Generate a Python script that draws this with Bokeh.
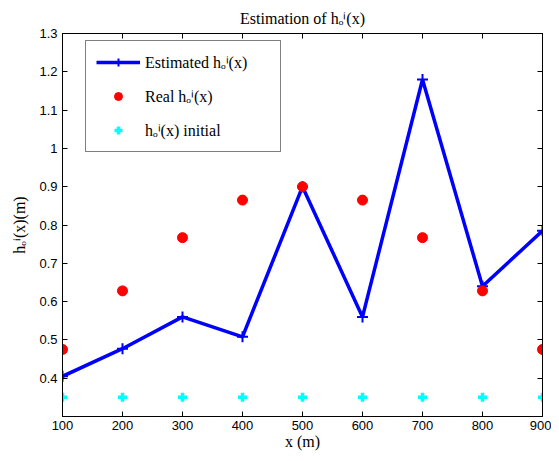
from bokeh.plotting import figure
from bokeh.models import (Range1d, FixedTicker, LinearAxis, Legend, LegendItem)
from bokeh.embed import file_html
from bokeh.resources import INLINE

# ---- data ----
x_pos = [100, 200, 300, 400, 500, 600, 700, 800, 900]
h_estimated = [0.405, 0.477, 0.560, 0.508, 0.900, 0.560, 1.180, 0.640, 0.785]
h_real = [0.475, 0.628, 0.767, 0.865, 0.900, 0.865, 0.767, 0.628, 0.475]
h_initial = [0.35, 0.35, 0.35, 0.35, 0.35, 0.35, 0.35, 0.35, 0.35]
x_ticks = [100, 200, 300, 400, 500, 600, 700, 800, 900]
y_ticks = [0.4, 0.5, 0.6, 0.7, 0.8, 0.9, 1.0, 1.1, 1.2, 1.3]

SERIF = "Liberation Serif"
SANS = "Liberation Sans"
MATH = "h\u2092\u2071(x)"

p = figure(width=551, height=453, output_backend="svg", toolbar_location=None,
           x_range=Range1d(100, 900), y_range=Range1d(0.3, 1.3),
           min_border_left=62, min_border_right=9, min_border_top=33,
           min_border_bottom=37)
p.title.text = "Estimation of " + MATH
p.title.align = "center"
p.title.text_font = SERIF
p.title.text_font_style = "normal"
p.title.text_font_size = "16px"
p.title.text_color = "black"
p.title.standoff = 14
p.title.offset = 0

p.xgrid.visible = False
p.ygrid.visible = False
p.outline_line_color = "black"
p.outline_line_width = 1
p.outline_line_alpha = 1

for ax in (p.xaxis[0], p.yaxis[0]):
    ax.major_tick_in = 5
    ax.major_tick_out = 0
    ax.minor_tick_line_color = None
    ax.axis_line_color = "black"
    ax.major_tick_line_color = "black"
    ax.major_label_text_font = SANS
    ax.major_label_text_font_size = "13px"
    ax.major_label_text_color = "black"
    ax.axis_label_text_font = SERIF
    ax.axis_label_text_font_size = "16px"
    ax.axis_label_text_font_style = "normal"
    ax.axis_label_text_color = "black"

p.xaxis.ticker = FixedTicker(ticks=x_ticks)
p.yaxis.ticker = FixedTicker(ticks=y_ticks)
p.xaxis.axis_label = "x (m)"
p.yaxis.axis_label = MATH + "(m)"
p.xaxis.major_label_standoff = 4
p.xaxis.axis_label_standoff = 0
p.yaxis.major_label_standoff = 5
p.yaxis.axis_label_standoff = 8

# box axes (top/right) with inward ticks, no labels
top = LinearAxis(ticker=FixedTicker(ticks=x_ticks), major_tick_in=5, major_tick_out=0,
                 minor_tick_line_color=None, major_label_text_font_size="1px",
                 major_label_text_color=None, major_label_standoff=0)
right = LinearAxis(ticker=FixedTicker(ticks=y_ticks), major_tick_in=5, major_tick_out=0,
                   minor_tick_line_color=None, major_label_text_font_size="1px",
                   major_label_text_color=None, major_label_standoff=0)
p.add_layout(top, "above")
p.add_layout(right, "right")

est_line = p.line(x_pos, h_estimated, line_color="#0000ff", line_width=3.5)
est_mark = p.scatter(x_pos, h_estimated, marker="cross", size=11,
                     line_color="#0000ff", line_width=2)
real = p.scatter(x_pos, h_real, marker="circle", size=10,
                 fill_color="#ff0000", line_color="#ff0000")
init = p.scatter(x_pos, h_initial, marker="cross", size=9,
                 line_color="#00ffff", line_width=3.5)

legend = Legend(items=[
    LegendItem(label="Estimated " + MATH, renderers=[est_line, est_mark]),
    LegendItem(label="Real " + MATH, renderers=[real]),
    LegendItem(label=MATH + " initial", renderers=[init]),
], location=(23, 264))
legend.label_text_font = SERIF
legend.label_text_font_size = "16px"
legend.label_text_color = "black"
legend.label_height = 20
legend.label_width = 125
legend.glyph_height = 20
legend.glyph_width = 44
legend.spacing = 12
legend.padding = 10
legend.margin = 0
legend.label_standoff = 5
legend.border_line_color = "black"
legend.border_line_width = 1
legend.background_fill_color = "white"
legend.background_fill_alpha = 1
p.add_layout(legend)

open("out.html", "w").write(file_html(p, INLINE))
